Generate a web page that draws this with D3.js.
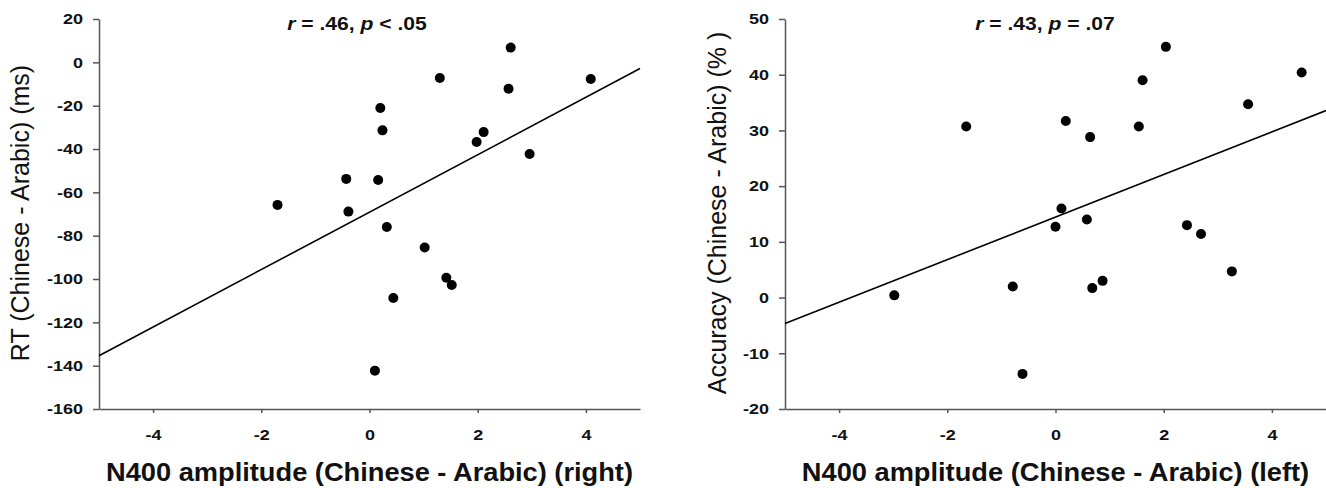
<!DOCTYPE html>
<html>
<head>
<meta charset="utf-8">
<script src="https://cdn.jsdelivr.net/npm/d3@7"></script>
<style>
  body { margin: 0; background: #fff; }
  .axis path, .axis line { stroke: #555; stroke-width: 1.5px; }
  .axis text { font-family: "Liberation Sans", Arial, sans-serif; font-weight: bold; font-size: 15px; fill: #111; }
  .fit { fill: none; stroke: #000; stroke-width: 1.6px; }
  .dot { fill: #000; }
  .ytitle { font-family: "Liberation Sans", Arial, sans-serif; font-size: 25px; fill: #111; }
  .xtitle { font-family: "Liberation Sans", Arial, sans-serif; font-weight: bold; font-size: 25px; fill: #111; }
  .stat { font-family: "Liberation Sans", Arial, sans-serif; font-weight: bold; font-size: 18.5px; fill: #111; }
</style>
</head>
<body>
<script>
// left panel: RT vs N400 (right)
var rtN400 = [2.61, 1.30, 4.09, 2.57, 0.20, 0.24, 2.11, 1.98, 2.96, -0.43, 0.16, -0.39, 0.32, 1.02, -1.70, 1.42, 1.52, 0.44, 0.10];
var rtDiff = [6.8, -7.2, -7.7, -12.2, -21.1, -31.4, -32.2, -36.8, -42.3, -53.8, -54.3, -68.9, -76.0, -85.5, -65.8, -99.4, -102.8, -108.8, -142.3];

// right panel: accuracy vs N400 (left)
var accN400 = [-1.65, 2.04, 4.55, 1.61, 3.56, 0.19, 1.54, 0.64, 0.11, 0.58, 0.00, 2.43, 2.69, -2.98, -0.79, 0.68, 0.87, 3.26, -0.61];
var accDiff = [30.7, 45.0, 40.4, 39.0, 34.7, 31.7, 30.7, 28.8, 16.0, 14.0, 12.7, 13.0, 11.4, 0.4, 2.0, 1.7, 3.0, 4.7, -13.7];

var xTicks = [-4, -2, 0, 2, 4];
var rtTicks = [20, 0, -20, -40, -60, -80, -100, -120, -140, -160];
var accTicks = [50, 40, 30, 20, 10, 0, -10, -20];

var svg = d3.select("body").append("svg")
    .attr("width", 1326)
    .attr("height", 488);

// plain hyphen for negatives, like the original
var fmt = function(d) { return String(d); };

// least squares line
function fit(xs, ys) {
  var mx = d3.mean(xs), my = d3.mean(ys);
  var sxy = d3.sum(xs, function(d, i) { return (d - mx) * (ys[i] - my); });
  var sxx = d3.sum(xs, function(d) { return (d - mx) * (d - mx); });
  var b = sxy / sxx;
  return function(x) { return my + b * (x - mx); };
}

function panel(opt) {
  var x = d3.scaleLinear().domain([-5, 5]).range([opt.left, opt.right]);
  var y = d3.scaleLinear().domain(opt.yDomain).range([409, 19]);

  var gx = svg.append("g")
      .attr("class", "axis")
      .attr("transform", "translate(0,409)")
      .call(d3.axisBottom(x).tickValues(xTicks).tickFormat(fmt).tickSize(4).tickSizeOuter(0).tickPadding(16));
  gx.selectAll("text").attr("transform", "scale(1.2,1)");

  var gy = svg.append("g")
      .attr("class", "axis")
      .attr("transform", "translate(" + opt.left + ",0)")
      .call(d3.axisLeft(y).tickValues(opt.yTicks).tickFormat(fmt).tickSize(6).tickSizeOuter(0).tickPadding(7.3));
  gy.selectAll("text").attr("transform", "scale(1.2,1)");

  var f = fit(opt.xs, opt.ys);
  svg.append("path")
      .datum([-5, 5])
      .attr("class", "fit")
      .attr("d", d3.line()
                   .x(function(d) { return x(d); })
                   .y(function(d) { return y(f(d)); }));

  svg.append("g").selectAll("circle")
      .data(opt.xs)
    .enter().append("circle")
      .attr("class", "dot")
      .attr("cx", function(d) { return x(d); })
      .attr("cy", function(d, i) { return y(opt.ys[i]); })
      .attr("r", 5);

  var st = svg.append("text")
      .attr("class", "stat")
      .attr("text-anchor", "middle")
      .attr("transform", "translate(" + opt.statX + ",30) scale(1.14,1)");
  st.append("tspan").attr("font-style", "italic").text("r");
  st.append("tspan").text(" = " + opt.r + ", ");
  st.append("tspan").attr("font-style", "italic").text("p");
  st.append("tspan").text(" " + opt.p);

  svg.append("text")
      .attr("class", "xtitle")
      .attr("text-anchor", "middle")
      .attr("transform", "translate(" + ((opt.left + opt.right) / 2) + ",481) scale(1.09,1)")
      .text(opt.xLabel);

  svg.append("text")
      .attr("class", "ytitle")
      .attr("text-anchor", "middle")
      .attr("transform", "translate(" + opt.yLabelX + ",213) rotate(-90)")
      .text(opt.yLabel);
}

panel({
  left: 99, right: 640, yDomain: [-160, 20], yTicks: rtTicks,
  xs: rtN400, ys: rtDiff, r: ".46", p: "< .05", statX: 357,
  xLabel: "N400 amplitude (Chinese - Arabic) (right)",
  yLabel: "RT (Chinese - Arabic) (ms)", yLabelX: 29
});

panel({
  left: 785, right: 1326, yDomain: [-20, 50], yTicks: accTicks,
  xs: accN400, ys: accDiff, r: ".43", p: "= .07", statX: 1045,
  xLabel: "N400 amplitude (Chinese - Arabic) (left)",
  yLabel: "Accuracy (Chinese - Arabic) (% )", yLabelX: 726
});
</script>
</body>
</html>
